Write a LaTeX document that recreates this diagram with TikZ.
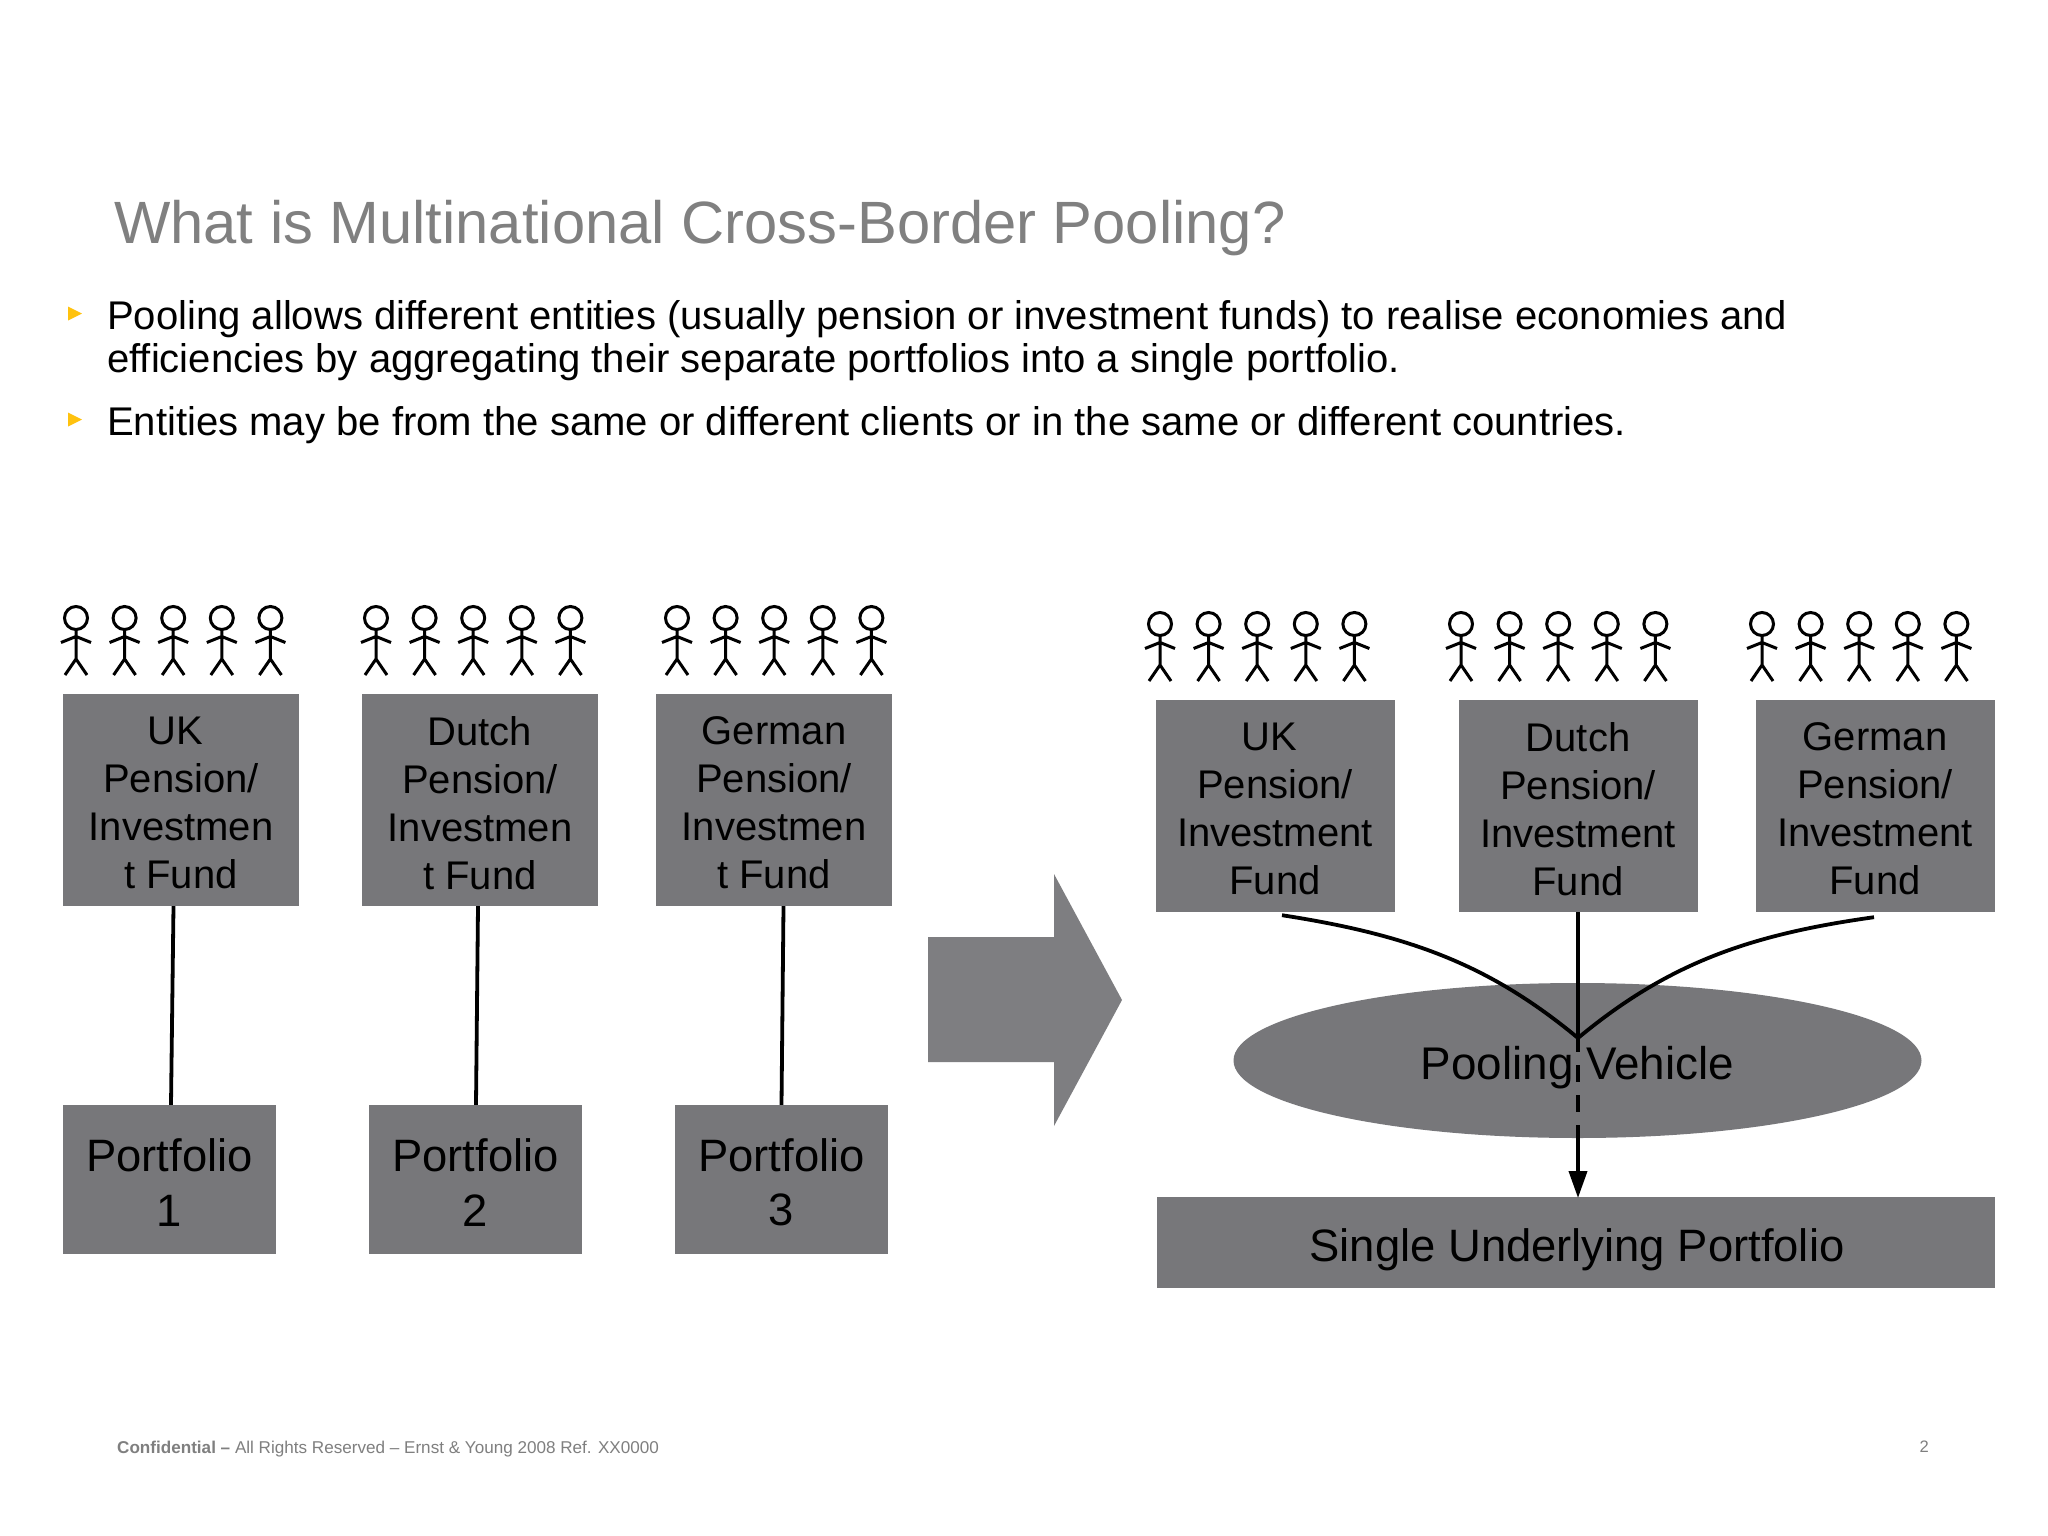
\documentclass[tikz,border=0pt]{standalone}
\usepackage{fontspec}
\setmainfont{Liberation Sans}
\usetikzlibrary{shapes.geometric,arrows.meta,calc}
\definecolor{boxgrey}{HTML}{77777A}
\definecolor{titlegrey}{HTML}{808080}
\definecolor{footgrey}{HTML}{7F7F7F}
\definecolor{bulletyellow}{HTML}{FFC20E}
\newcommand{\fs}[2]{\fontsize{#1}{#2}\selectfont}
\tikzset{
  x=1pt,y=-1pt,
  fundbox/.style={fill=boxgrey,inner sep=0pt,align=center,text=black,font=\fs{40}{48}},
  portbox/.style={fill=boxgrey,inner sep=0pt,align=center,text=black,font=\fs{45.4}{54.5}},
  link/.style={line width=3.8pt,black},
  person/.pic={
    \draw[line width=3pt,black] (0,0) circle[radius=11.5];
    \draw[line width=3pt,black] (0,11.5) -- (0,41) (-15,24.5) -- (0,18.5) -- (15,24.5) (-11,57) -- (0,41) -- (11,57);
  },
  crowd/.pic={
    \foreach \k in {0,...,4}{ \pic at (48.6*\k,0) {person}; }
  },
  bulletmark/.style={fill=bulletyellow,draw=none}
}
\begin{document}
\begin{tikzpicture}
\useasboundingbox (0,0) rectangle (2048,1536);
\fill[white] (0,0) rectangle (2048,1536);
% title
\node[anchor=base west,inner sep=0pt,text=titlegrey,font=\fs{59.7}{70}] (title) at (114,243) {What is Multinational Cross-Border Pooling?};
% bullets
\fill[bulletmark] (68,306.5) -- (82,313.5) -- (68,320.5) -- cycle;
\fill[bulletmark] (68,412.5) -- (82,419.5) -- (68,426.5) -- cycle;
\node[anchor=base west,inner sep=0pt,font=\fs{40.05}{43}] (b1a) at (107,329) {Pooling allows different entities (usually pension or investment funds) to realise economies and};
\node[anchor=base west,inner sep=0pt,font=\fs{40.05}{43}] (b1b) at (107,372) {efficiencies by aggregating their separate portfolios into a single portfolio.};
\node[anchor=base west,inner sep=0pt,font=\fs{40.05}{43}] (b2) at (107,435) {Entities may be from the same or different clients or in the same or different countries.};
% crowds
\pic at (76,618) {crowd};
\pic at (376,618) {crowd};
\pic at (677,618) {crowd};
\pic at (1160,624) {crowd};
\pic at (1461,624) {crowd};
\pic at (1762,624) {crowd};
% left
\tikzset{fundtext/.style={yshift=-3pt}}
\node[fundbox,minimum width=236,minimum height=212] (f1) at (181,800) {};
\node[fundbox,minimum width=236,minimum height=212] (f2) at (480,800) {};
\node[fundbox,minimum width=236,minimum height=212] (f3) at (774,800) {};
\node[fundbox,fill=none,fundtext] (f1t) at (f1) {\mbox{UK\hspace{11pt}}\\Pension/\\Investmen\\t Fund};
\node[fundbox,fill=none,fundtext] (f2t) at (f2) {Dutch\\Pension/\\Investmen\\t Fund};
\node[fundbox,fill=none,fundtext] (f3t) at (f3) {German\\Pension/\\Investmen\\t Fund};
\node[portbox,minimum width=213,minimum height=149] (p1) at (169.5,1179.5) {};
\node[portbox,minimum width=213,minimum height=149] (p2) at (475.5,1179.5) {};
\node[portbox,minimum width=213,minimum height=149] (p3) at (781.5,1179.5) {};
\node[portbox,fill=none,yshift=-3pt] (p1t) at (p1) {Portfolio\\1};
\node[portbox,fill=none,yshift=-3pt] (p2t) at (p2) {Portfolio\\2};
\node[portbox,fill=none,yshift=-3pt] (p3t) at (p3) {Portfolio\\3};
\draw[link] ([xshift=-7.5pt]f1.south) -- ([xshift=1.5pt]p1.north);
\draw[link] ([xshift=-2pt]f2.south) -- ([xshift=0.5pt]p2.north);
\draw[link] ([xshift=9.5pt]f3.south) -- ([xshift=0pt]p3.north);
% block arrow
\fill[boxgrey!95!white] (928,937) -- (1054,937) -- (1054,874) -- (1122,1000) -- (1054,1126) -- (1054,1062) -- (928,1062) -- cycle;
% right
\node[fundbox,minimum width=239,minimum height=212] (g1) at (1275,806) {};
\node[fundbox,minimum width=239,minimum height=212] (g2) at (1578,806) {};
\node[fundbox,minimum width=239,minimum height=212] (g3) at (1875,806) {};
\node[fundbox,fill=none,fundtext] (g1t) at (g1) {\mbox{UK\hspace{11pt}}\\Pension/\\Investment\\Fund};
\node[fundbox,fill=none,fundtext] (g2t) at (g2) {Dutch\\Pension/\\Investment\\Fund};
\node[fundbox,fill=none,fundtext] (g3t) at (g3) {German\\Pension/\\Investment\\Fund};
\node[ellipse,fill=boxgrey,inner sep=0pt,minimum width=688,minimum height=155] (pv) at (1577.5,1060.5) {};
\node[inner sep=0pt,font=\fs{45.8}{54},yshift=-7pt] (pvt) at (pv) {Pooling Vehicle};
\node[fill=boxgrey,inner sep=0pt,minimum width=838,minimum height=91] (sp) at (1576,1242.5) {};
\node[inner sep=0pt,font=\fs{45.4}{54},yshift=-7pt,xshift=1pt] (spt) at (sp) {Single Underlying Portfolio};
\coordinate (join) at (1578,1038);
\coordinate (dashend) at (1578,1125);
\coordinate (tipend) at (1578,1198);
\draw[link] ([xshift=7pt,yshift=-3pt]g1.south) .. controls (1410,935) and (1490,965) .. (join);
\draw[link] ([xshift=-1pt,yshift=-5pt]g3.south) .. controls (1746,935) and (1666,965) .. (join);
\draw[link] (g2.south) -- (join);
\draw[link,dash pattern=on 17pt off 13pt,dash phase=3pt] (join) -- (dashend);
\draw[link,-{Triangle[length=27pt,width=18pt]}] (dashend) -- (tipend);
% footer
\node[anchor=base west,inner sep=0pt,text=footgrey,font=\fs{17.1}{20}] (foot) at (117,1453) {\textbf{Confidential –} All Rights Reserved – Ernst \& Young 2008 Ref. XX0000};
\node[anchor=base east,inner sep=0pt,text=footgrey,font=\fs{16.6}{20}] (pg) at (1929,1452) {2};
\end{tikzpicture}
\end{document}
